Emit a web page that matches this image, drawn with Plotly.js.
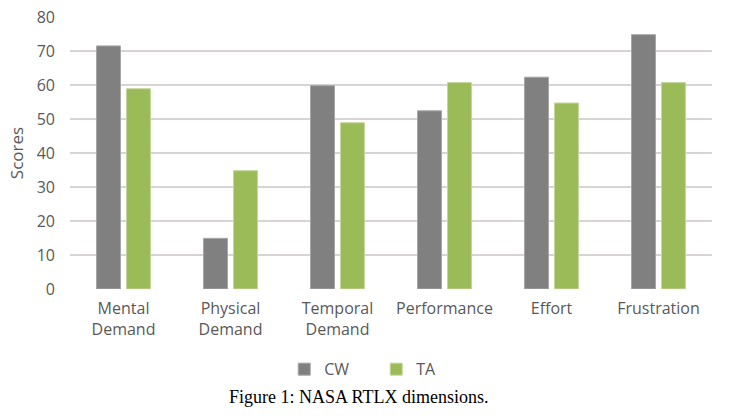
<!DOCTYPE html>
<html>
<head>
<meta charset="utf-8">
<script src="https://cdn.plot.ly/plotly-3.0.1.min.js"></script>
<style>html,body{margin:0;padding:0;background:#fff;}#chart{width:731px;height:416px;}</style>
</head>
<body>
<div id="chart"></div>
<script>
var categories = ["Mental<br>Demand", "Physical<br>Demand", "Temporal<br>Demand", "Performance", "Effort", "Frustration"];
var cwValues = [71.5, 14.9, 59.8, 52.4, 62.3, 74.8];
var taValues = [58.9, 34.8, 48.9, 60.7, 54.7, 60.7];
var yTicks = [0, 10, 20, 30, 40, 50, 60, 70, 80];

var font = "'Open Sans', 'Noto Sans', sans-serif";
var traces = [
  {type: "bar", name: "CW", x: categories, y: cwValues,
   marker: {color: "#808080", line: {color: "#a6a6a6", width: 1}}},
  {type: "bar", name: "TA", x: categories, y: taValues,
   marker: {color: "#9bbb59", line: {color: "#c3d69b", width: 1}}}
];
var layout = {
  width: 731, height: 416,
  margin: {l: 70, r: 19, t: 17, b: 127},
  paper_bgcolor: "#fff", plot_bgcolor: "#fff",
  barmode: "group", bargap: 0.44, bargroupgap: 0.2,
  font: {family: font, size: 16, color: "#595959"},
  xaxis: {showgrid: false, showline: false, zeroline: false, ticks: "", ticklabelstandoff: 8,
          tickfont: {size: 16, color: "#595959"}},
  yaxis: {range: [0, 80], tickvals: yTicks, showgrid: true, gridcolor: "#d9d4d4", gridwidth: 2,
          zeroline: false, showline: false, ticks: "", ticklabelstandoff: 14,
          tickfont: {size: 16, color: "#595959"},
          title: {text: "Scores", font: {size: 17, color: "#595959"}, standoff: 8}},
  showlegend: true,
  legend: {orientation: "h", x: 0.477, xanchor: "center", y: -0.295, yanchor: "middle",
           font: {size: 16, color: "#595959"}, itemwidth: 30, entrywidth: 47},
  annotations: [{text: "Figure 1: NASA RTLX dimensions.", xref: "paper", yref: "paper",
                 x: 0.45, y: -0.397, xanchor: "center", yanchor: "middle", showarrow: false,
                 font: {family: "'Liberation Serif', 'Times New Roman', serif", size: 18, color: "#000"}}]
};
Plotly.newPlot("chart", traces, layout, {displayModeBar: false, staticPlot: true});
</script>
</body>
</html>
